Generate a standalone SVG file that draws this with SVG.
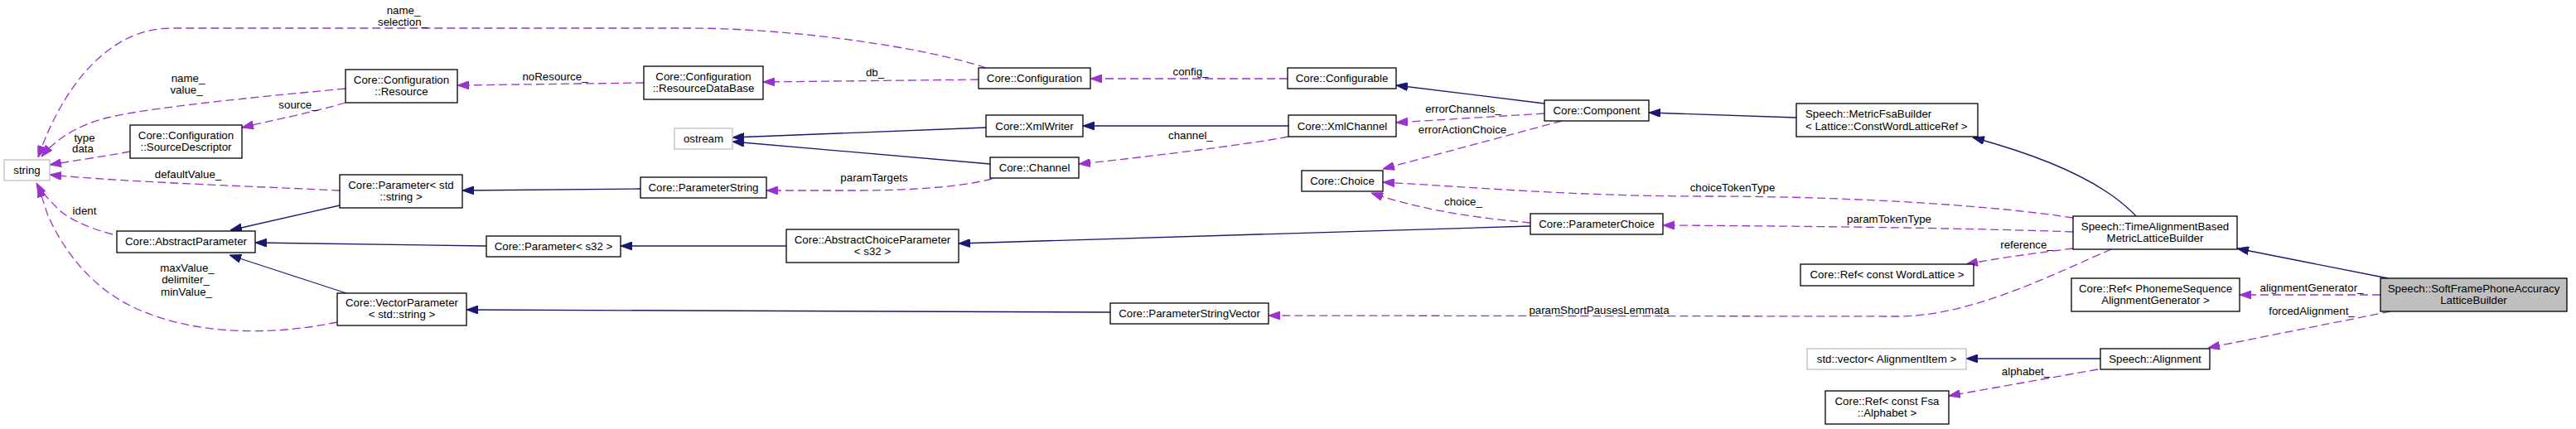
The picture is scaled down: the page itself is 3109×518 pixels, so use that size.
<svg xmlns="http://www.w3.org/2000/svg" width="3109" height="518" viewBox="0 0 3109 518">
<style>
text{font-family:"Liberation Sans",Arial,sans-serif;font-size:13.3px;fill:#000;text-anchor:middle}
.n rect{fill:#fff;stroke:#000;stroke-width:1.3}
.n rect.u{stroke:#bfbfbf}
.n rect.f{fill:#bfbfbf}
.b{fill:none;stroke:#191970;stroke-width:1.3;marker-end:url(#ab)}
.d{fill:none;stroke:#9a32cd;stroke-width:1.3;stroke-dasharray:10,5;marker-end:url(#ad)}
</style>
<defs>
<marker id="ab" markerUnits="userSpaceOnUse" markerWidth="14" markerHeight="10" viewBox="0 0 14 10" refX="14" refY="5" orient="auto"><path d="M0,0 L14,5 L0,10 z" fill="#191970" stroke="#191970" stroke-dasharray="none"/></marker>
<marker id="ad" markerUnits="userSpaceOnUse" markerWidth="14" markerHeight="10" viewBox="0 0 14 10" refX="14" refY="5" orient="auto"><path d="M0,0 L14,5 L0,10 z" fill="#9a32cd" stroke="#9a32cd" stroke-dasharray="none"/></marker>
</defs>
<rect x="0" y="0" width="3109" height="518" fill="#fff"/>
<g id="edges">
<path class="d" d="M1190,82 C1120,58 960,34 830,34 L207,34 C120,34 68,125 46,190"/>
<path class="d" d="M417,107 C300,118 180,130 130,142 C90,152 66,170 50,189"/>
<path class="d" d="M417,124 C380,135 330,145 292,154"/>
<path class="d" d="M157,183 C130,188 90,194 60,199"/>
<path class="d" d="M410,230 C330,226 150,220 60,211"/>
<path class="d" d="M136,283 C110,276 85,266 72,254 C60,242 50,232 44,221"/>
<path class="d" d="M407,389 C330,405 240,405 170,375 C110,350 75,300 57,258 L46,224"/>
<path class="d" d="M777,100 L552,103"/>
<path class="d" d="M1181,96 L921,99"/>
<path class="d" d="M1554,95 L1316,95"/>
<path class="d" d="M1555,165 C1520,172 1400,188 1302,198"/>
<path class="d" d="M1197,216 C1150,228 1080,230 1030,230 L925,230"/>
<path class="d" d="M1864,137 L1685,148"/>
<path class="d" d="M1885,146 L1669,204"/>
<path class="d" d="M1847,269 C1790,264 1720,255 1655,233"/>
<path class="d" d="M2502,263 C2420,250 2250,237 2060,237 C1900,237 1780,226 1669,220"/>
<path class="d" d="M2502,280 C2400,276 2200,273 2007,272"/>
<path class="d" d="M2502,300 C2460,305 2410,312 2373,319"/>
<path class="d" d="M2548,301 C2480,330 2380,382 2290,382 L1531,381"/>
<path class="d" d="M2873,356 L2703,356"/>
<path class="d" d="M2885,376 L2665,420"/>
<path class="d" d="M2532,446 L2352,478"/>
<path class="b" d="M410,248 L278,278"/>
<path class="b" d="M587,297 L308,293"/>
<path class="b" d="M418,354 L277,308"/>
<path class="b" d="M773,228 L558,230"/>
<path class="b" d="M949,297 L749,297"/>
<path class="b" d="M1340,377 L563,374"/>
<path class="b" d="M1847,273 L1157,294"/>
<path class="b" d="M1190,154 L884,166"/>
<path class="b" d="M1195,198 L884,171"/>
<path class="b" d="M1555,152 L1307,152"/>
<path class="b" d="M1864,125 L1685,103"/>
<path class="b" d="M2168,142 L1990,136"/>
<path class="b" d="M2578,261 C2540,220 2470,190 2381,166"/>
<path class="b" d="M2882,336 L2700,300"/>
<path class="b" d="M2535,433 L2373,433"/>
<text x="487" y="17">name_</text><text x="486" y="31">selection_</text>
<text x="227" y="99">name_</text><text x="225" y="113">value_</text>
<text x="360" y="131">source_</text>
<text x="102" y="171">type</text><text x="100" y="184">data</text>
<text x="227" y="215">defaultValue_</text>
<text x="102" y="259">ident</text>
<text x="226" y="328">maxValue_</text><text x="224" y="342">delimiter_</text><text x="225" y="357">minValue_</text>
<text x="670" y="97">noResource_</text>
<text x="1056" y="92">db_</text>
<text x="1437" y="91">config_</text>
<text x="1437" y="168">channel_</text>
<text x="1055" y="219">paramTargets</text>
<text x="1766" y="136">errorChannels_</text>
<text x="1765" y="161">errorActionChoice</text>
<text x="1766" y="248">choice_</text>
<text x="2091" y="231">choiceTokenType</text>
<text x="2280" y="269">paramTokenType</text>
<text x="2446" y="300">reference_</text>
<text x="1930" y="379">paramShortPausesLemmata</text>
<text x="2790" y="352">alignmentGenerator_</text>
<text x="2790" y="380">forcedAlignment_</text>
<text x="2445" y="453">alphabet_</text>
</g>
<g id="n_string" class="n"><rect class="u" x="5" y="193" width="55" height="25"/><text x="32.5" y="210">string</text></g>
<g id="n_sourcedescriptor" class="n"><rect x="157" y="151" width="135" height="40"/><text x="224.5" y="167.5">Core::Configuration</text><text x="224.5" y="181.5">::SourceDescriptor</text></g>
<g id="n_resource" class="n"><rect x="417" y="84" width="135" height="40"/><text x="484.5" y="100.5">Core::Configuration</text><text x="484.5" y="114.5">::Resource</text></g>
<g id="n_param_string" class="n"><rect x="410" y="211" width="148" height="40"/><text x="484" y="227.5">Core::Parameter&lt; std</text><text x="484" y="241.5">::string &gt;</text></g>
<g id="n_abstractparameter" class="n"><rect x="141" y="279" width="167" height="26"/><text x="224.5" y="296">Core::AbstractParameter</text></g>
<g id="n_vectorparameter" class="n"><rect x="407" y="354" width="156" height="39"/><text x="485" y="370">Core::VectorParameter</text><text x="485" y="384">&lt; std::string &gt;</text></g>
<g id="n_parameterstring" class="n"><rect x="773" y="214" width="152" height="25"/><text x="849" y="231">Core::ParameterString</text></g>
<g id="n_ostream" class="n"><rect class="u" x="814" y="155" width="70" height="25"/><text x="849" y="172">ostream</text></g>
<g id="n_resourcedatabase" class="n"><rect x="777" y="80" width="144" height="40"/><text x="849" y="96.5">Core::Configuration</text><text x="849" y="110.5">::ResourceDataBase</text></g>
<g id="n_param_s32" class="n"><rect x="587" y="285" width="162" height="25"/><text x="668" y="302">Core::Parameter&lt; s32 &gt;</text></g>
<g id="n_abstractchoiceparameter" class="n"><rect x="949" y="277" width="208" height="40"/><text x="1053" y="293.5">Core::AbstractChoiceParameter</text><text x="1053" y="307.5">&lt; s32 &gt;</text></g>
<g id="n_configuration" class="n"><rect x="1181" y="82" width="135" height="25"/><text x="1248.5" y="99">Core::Configuration</text></g>
<g id="n_xmlwriter" class="n"><rect x="1190" y="139" width="117" height="26"/><text x="1248.5" y="156.5">Core::XmlWriter</text></g>
<g id="n_channel" class="n"><rect x="1195" y="190" width="107" height="25"/><text x="1248.5" y="207">Core::Channel</text></g>
<g id="n_parameterstringvector" class="n"><rect x="1340" y="366" width="191" height="25"/><text x="1435.5" y="383">Core::ParameterStringVector</text></g>
<g id="n_configurable" class="n"><rect x="1554" y="82" width="131" height="25"/><text x="1619.5" y="99">Core::Configurable</text></g>
<g id="n_xmlchannel" class="n"><rect x="1555" y="139" width="130" height="26"/><text x="1620" y="156.5">Core::XmlChannel</text></g>
<g id="n_component" class="n"><rect x="1864" y="121" width="126" height="25"/><text x="1927" y="138">Core::Component</text></g>
<g id="n_choice" class="n"><rect x="1571" y="206" width="98" height="25"/><text x="1620" y="223">Core::Choice</text></g>
<g id="n_parameterchoice" class="n"><rect x="1847" y="258" width="160" height="25"/><text x="1927" y="275">Core::ParameterChoice</text></g>
<g id="n_metricfsabuilder" class="n"><rect x="2168" y="125" width="219" height="40"/><text x="2179" y="141.5" style="text-anchor:start">Speech::MetricFsaBuilder</text><text x="2179" y="156.5" style="text-anchor:start">&lt; Lattice::ConstWordLatticeRef &gt;</text></g>
<g id="n_timealignment" class="n"><rect x="2502" y="261" width="198" height="40"/><text x="2601" y="277.5">Speech::TimeAlignmentBased</text><text x="2601" y="291.5">MetricLatticeBuilder</text></g>
<g id="n_ref_wordlattice" class="n"><rect x="2173" y="319" width="209" height="26"/><text x="2277.5" y="336">Core::Ref&lt; const WordLattice &gt;</text></g>
<g id="n_ref_phonemeseq" class="n"><rect x="2500" y="336" width="203" height="40"/><text x="2601.5" y="352.5">Core::Ref&lt; PhonemeSequence</text><text x="2601.5" y="366.5">AlignmentGenerator &gt;</text></g>
<g id="n_vector_alignmentitem" class="n"><rect class="u" x="2181" y="421" width="192" height="25"/><text x="2277" y="438">std::vector&lt; AlignmentItem &gt;</text></g>
<g id="n_alignment" class="n"><rect x="2535" y="421" width="132" height="25"/><text x="2601" y="438">Speech::Alignment</text></g>
<g id="n_ref_alphabet" class="n"><rect x="2203" y="472" width="149" height="40"/><text x="2277.5" y="488.5">Core::Ref&lt; const Fsa</text><text x="2277.5" y="502.5">::Alphabet &gt;</text></g>
<g id="n_softframe" class="n"><rect class="f" x="2873" y="336" width="225" height="40"/><text x="2985.5" y="352.5">Speech::SoftFramePhoneAccuracy</text><text x="2985.5" y="366.5">LatticeBuilder</text></g>
</svg>
